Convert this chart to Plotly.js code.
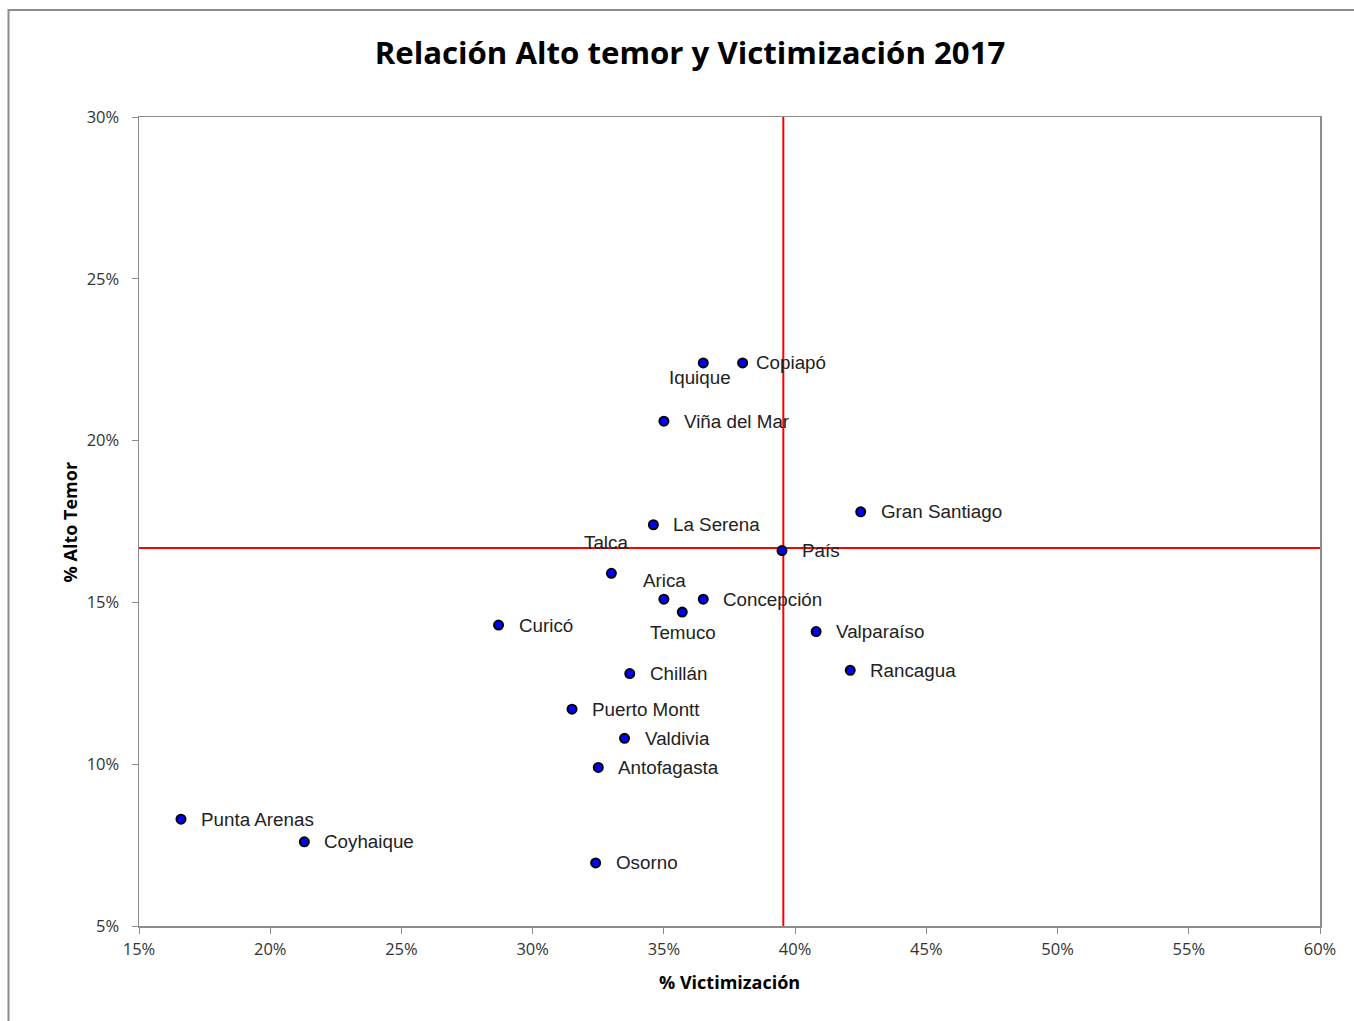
<!DOCTYPE html>
<html>
<head>
<meta charset="utf-8">
<script src="https://cdn.plot.ly/plotly-3.0.1.min.js"></script>
<style>
  html, body { margin: 0; padding: 0; background: #fff; }
  #chart { width: 1354px; height: 1021px; }
</style>
</head>
<body>
<div id="chart"></div>
<script>
    // Ciudades y valores (fracciones)
    const cities = ['Iquique', 'Copiapó', 'Viña del Mar', 'Gran Santiago', 'La Serena', 'País',
        'Talca', 'Arica', 'Concepción', 'Temuco', 'Curicó', 'Valparaíso', 'Rancagua', 'Chillán',
        'Puerto Montt', 'Valdivia', 'Antofagasta', 'Punta Arenas', 'Coyhaique', 'Osorno'];
    const victimizacion = [0.365, 0.380, 0.350, 0.425, 0.346, 0.395,
        0.330, 0.350, 0.365, 0.357, 0.287, 0.408, 0.421, 0.337,
        0.315, 0.335, 0.325, 0.166, 0.213, 0.324];
    const altoTemor = [0.224, 0.224, 0.206, 0.178, 0.174, 0.166,
        0.159, 0.151, 0.151, 0.147, 0.143, 0.141, 0.129, 0.128,
        0.117, 0.108, 0.099, 0.083, 0.076, 0.0695];

    // Líneas de referencia (valor país)
    const refVictimizacion = 0.3955;
    const refAltoTemor = 0.1668;

    // Label placement (default: right of the point)
    const labelPlacement = {
        'Iquique': 'below',
        'Copiapó': 'right-near',
        'Talca': 'above-far',
        'Arica': 'above',
        'Temuco': 'below-far'
    };

    const labelFont = { family: 'Liberation Sans, Arial, sans-serif', size: 18.8, color: '#222' };

    const annotations = cities.map((c, i) => {
        const pos = labelPlacement[c] || 'right';
        const a = {
            x: victimizacion[i], y: altoTemor[i], xref: 'x', yref: 'y',
            text: c, showarrow: false, font: labelFont
        };
        if (pos === 'right') { a.xanchor = 'left'; a.xshift = 18; }
        else if (pos === 'right-near') { a.xanchor = 'left'; a.xshift = 11; }
        else if (pos === 'below') { a.xanchor = 'center'; a.yshift = -15; a.xshift = -3; }
        else if (pos === 'below-far') { a.xanchor = 'center'; a.yshift = -20; a.xshift = 1; }
        else if (pos === 'above') { a.xanchor = 'center'; a.yshift = 19; a.xshift = 1; }
        else if (pos === 'above-far') { a.xanchor = 'center'; a.yshift = 31; a.xshift = -5; }
        return a;
    });

    annotations.push({
        text: '% Victimización', xref: 'paper', yref: 'paper', x: 0.5, y: -0.052,
        xanchor: 'center', yanchor: 'top', showarrow: false,
        font: { family: 'Open Sans, sans-serif', size: 18, color: '#000', weight: 'bold' }
    });
    annotations.push({
        text: '% Alto Temor', xref: 'paper', yref: 'paper', x: -0.0585, y: 0.5,
        textangle: -90, xanchor: 'center', yanchor: 'middle', showarrow: false,
        font: { family: 'Open Sans, sans-serif', size: 18, color: '#000', weight: 'bold' }
    });

    const axisStyle = {
        showgrid: false, zeroline: false, showline: true, mirror: true,
        linecolor: '#8c8c8c', linewidth: 1.5,
        ticks: 'outside', ticklen: 6, tickcolor: '#8c8c8c', tickwidth: 1,
        tickformat: '.0%', dtick: 0.05,
        tickfont: { family: 'Open Sans, sans-serif', size: 16.5, color: '#333' }
    };

    Plotly.newPlot('chart', [{
        x: victimizacion,
        y: altoTemor,
        type: 'scatter',
        mode: 'markers',
        marker: { color: '#0000ff', size: 9, line: { color: '#000', width: 2 } },
        hoverinfo: 'text',
        text: cities
    }], {
        width: 1354, height: 1021,
        paper_bgcolor: '#fff', plot_bgcolor: '#fff',
        margin: { l: 139, r: 34, t: 117, b: 95 },
        title: {
            text: 'Relación Alto temor y Victimización 2017',
            x: 0.5096, xref: 'container', xanchor: 'center', y: 0.948, yanchor: 'middle',
            font: { family: 'Open Sans, sans-serif', size: 31.2, color: '#000', weight: 'bold' }
        },
        xaxis: Object.assign({}, axisStyle, { range: [0.15, 0.60], ticklabelstandoff: 2 }),
        yaxis: Object.assign({}, axisStyle, { range: [0.05, 0.30], ticklabelstandoff: 9 }),
        showlegend: false,
        annotations: annotations,
        shapes: [
            { type: 'line', xref: 'x', yref: 'paper', x0: refVictimizacion, x1: refVictimizacion, y0: 0, y1: 1,
              line: { color: '#ff0000', width: 2 }, layer: 'below' },
            { type: 'line', xref: 'paper', yref: 'y', x0: 0, x1: 1, y0: refAltoTemor, y1: refAltoTemor,
              line: { color: '#ff0000', width: 2 }, layer: 'below' },
            { type: 'rect', xref: 'paper', yref: 'paper', x0: -0.1105, x1: 1.05, y0: -0.125, y1: 1.1323,
              line: { color: '#8c8c8c', width: 2 }, fillcolor: 'rgba(0,0,0,0)' }
        ]
    }, { displayModeBar: false, staticPlot: true });
</script>
</body>
</html>
